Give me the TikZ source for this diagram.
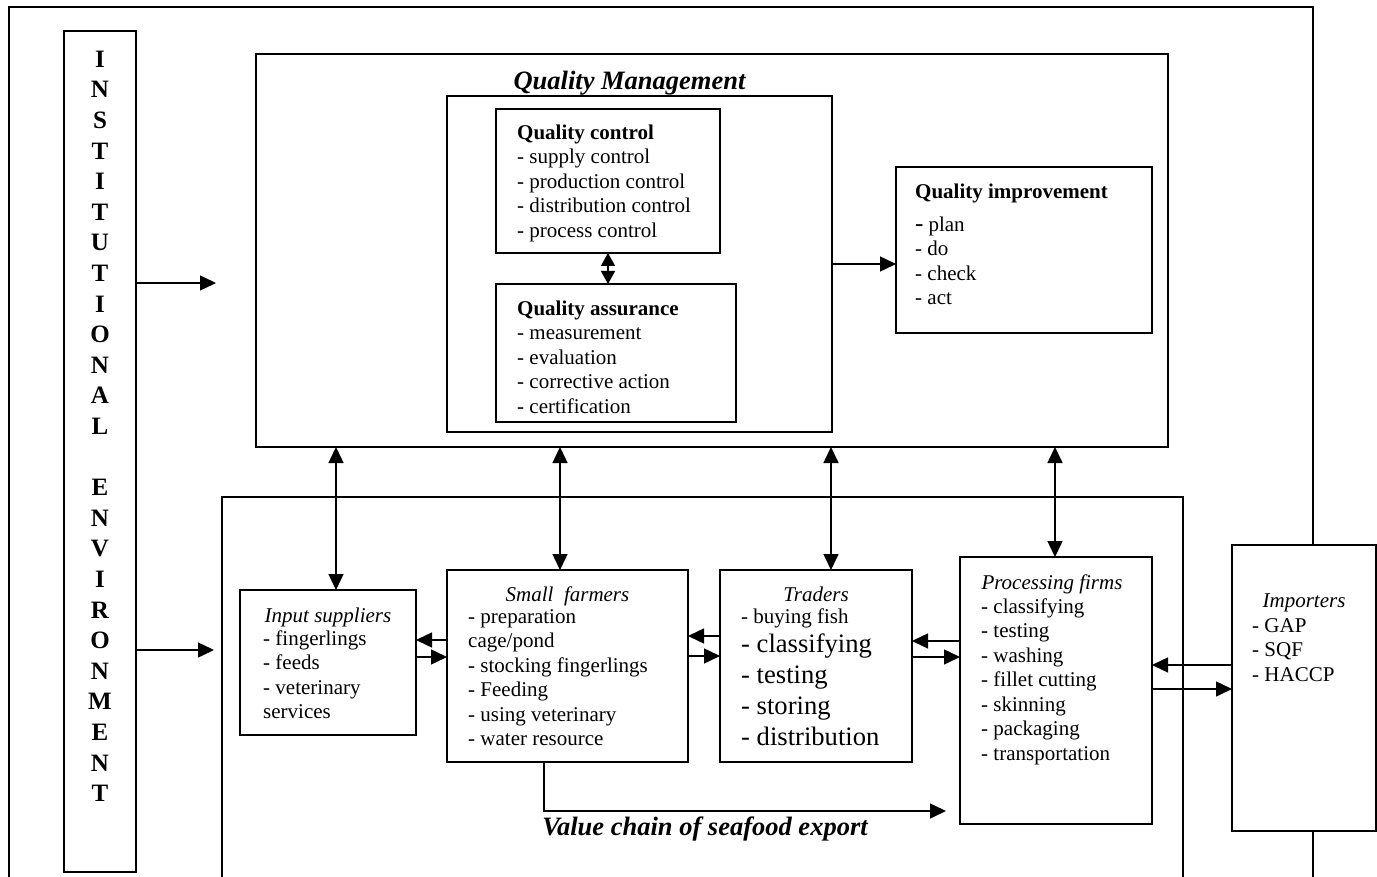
\documentclass[tikz,border=0pt]{standalone}
\usepackage{fontspec}
\setmainfont{Liberation Serif}
\usetikzlibrary{arrows.meta,positioning}
\tikzstyle{box} = [rectangle, draw, line width=1.5pt, inner sep=0pt, outer sep=0pt, anchor=north west]
\tikzstyle{txt} = [inner sep=0pt, anchor=north west, align=left, font=\fontsize{21}{24.5}\selectfont]
\tikzstyle{ttl} = [inner sep=0pt, anchor=base, font=\fontsize{21}{24.5}\selectfont\itshape]
\tikzstyle{heading} = [inner sep=0pt, anchor=base, font=\fontsize{26.5}{31}\selectfont\bfseries\itshape]
\tikzstyle{frameline} = [draw, line width=1.5pt]
\tikzstyle{line} = [draw, line width=1.5pt, -{Triangle[length=16pt,width=15pt]}]
\tikzstyle{dline} = [draw, line width=1.5pt, {Triangle[length=16pt,width=15pt]}-{Triangle[length=16pt,width=15pt]}]
\newcommand{\lnrule}{\rule{0pt}{17.15pt}}
\newcommand{\bigtxt}{\fontsize{26.6}{31}\selectfont}

\begin{document}
\begin{tikzpicture}[x=1pt, y=-1pt]
    \useasboundingbox (0,0) rectangle (1377,877);
    % outer frame and value chain frame
    \draw[frameline] (9,877) |- (1313,7) -- (1313,877);
    \draw[frameline] (222,877) |- (1183,497) -- (1183,877);
    % institutional environment
    \node[box, minimum width=72pt, minimum height=841pt] (inst) at (64,31) {};
    \node[below=14.6pt of inst.north, align=center, inner sep=0pt, font=\fontsize{25}{30.6}\selectfont\bfseries] (instt) {\rule{0pt}{21.4pt}I\\N\\S\\T\\I\\T\\U\\T\\I\\O\\N\\A\\L\\[30.6pt]E\\N\\V\\I\\R\\O\\N\\M\\E\\N\\T};
    \coordinate (ia1) at (216,283);
    \coordinate (ia2) at (214,650);
    \path [line] (inst.east |- ia1) -- (ia1);
    \path [line] (inst.east |- ia2) -- (ia2);
    % quality management
    \node[box, minimum width=912pt, minimum height=393pt] (qm) at (256,54) {};
    \node[heading] (qmt) at (629.5,90) {Quality Management};
    \node[box, minimum width=385pt, minimum height=336pt] (qmin) at (447,96) {};
    \node[box, minimum width=224pt, minimum height=144pt] (qc) at (496,109) {};
    \node[txt, below right=12.85pt and 21pt of qc.north west] (qct) {\lnrule\textbf{Quality control}\\- supply control\\- production control\\- distribution control\\- process control};
    \node[box, minimum width=240pt, minimum height=138pt] (qa) at (496,284) {};
    \node[txt, below right=13.85pt and 21pt of qa.north west] (qat) {\lnrule\textbf{Quality assurance}\\- measurement\\- evaluation\\- corrective action\\- certification};
    \path [draw, line width=1.5pt, {Triangle[length=13pt,width=14pt]}-{Triangle[length=13pt,width=14pt]}] (qc.south) -- (qc.south |- qa.north);
    \node[box, minimum width=256pt, minimum height=166pt] (qi) at (896,167) {};
    \node[txt, below right=13.85pt and 19pt of qi.north west] (qit) {\lnrule\textbf{Quality improvement}\\[8.5pt]{\fontsize{25}{25}\selectfont -}\hspace{5pt}plan\\- do\\- check\\- act};
    \path [line] (qmin.east) -- (qmin.east -| qi.west);
    % value chain
    \node[box, minimum width=176pt, minimum height=145pt] (inp) at (240,590) {};
    \node[ttl] (inpt) at ([yshift=-32pt]inp.north) {Input suppliers};
    \node[txt, below right=37.85pt and 23pt of inp.north west] (inpl) {\lnrule- fingerlings\\- feeds\\- veterinary\\services};
    \node[box, minimum width=241pt, minimum height=192pt] (farm) at (447,570) {};
    \node[ttl] (farmt) at ([yshift=-31pt]farm.north) {Small\ \ farmers};
    \node[txt, below right=35.85pt and 21pt of farm.north west] (farml) {\lnrule- preparation\\cage/pond\\- stocking fingerlings\\- Feeding\\- using veterinary\\- water resource};
    \node[box, minimum width=192pt, minimum height=192pt] (trad) at (720,570) {};
    \node[ttl] (tradt) at ([yshift=-31pt]trad.north) {Traders};
    \node[txt, below right=35.85pt and 21pt of trad.north west] (tradl) {\lnrule- buying fish\\[4.5pt]{\bigtxt - classifying}\\[6.5pt]{\bigtxt - testing}\\[6.5pt]{\bigtxt - storing}\\[6.5pt]{\bigtxt - distribution}};
    \node[box, minimum width=192pt, minimum height=267pt] (proc) at (960,557) {};
    \node[ttl] (proct) at ([shift={(-4pt,-32pt)}]proc.north) {Processing firms};
    \node[txt, below right=38.85pt and 21pt of proc.north west] (procl) {\lnrule- classifying\\- testing\\- washing\\- fillet cutting\\- skinning\\- packaging\\- transportation};
    \node[box, fill=white, minimum width=144pt, minimum height=286pt] (imp) at (1232,545) {};
    \node[ttl] (impt) at ([yshift=-62pt]imp.north) {Importers};
    \node[txt, below right=69.85pt and 20pt of imp.north west] (impl) {\lnrule- GAP\\- SQF\\- HACCP};
    % links to quality management
    \path [dline] ([xshift=8pt]inp.north) -- ([xshift=8pt]inp.north |- qm.south);
    \path [dline] ([xshift=-7.5pt]farm.north) -- ([xshift=-7.5pt]farm.north |- qm.south);
    \path [dline] ([xshift=15pt]trad.north) -- ([xshift=15pt]trad.north |- qm.south);
    \path [dline] ([xshift=-1pt]proc.north) -- ([xshift=-1pt]proc.north |- qm.south);
    % flows along the chain
    \path [line] ([yshift=22.5pt]farm.west |- inp.east) -- ([yshift=22.5pt]inp.east);
    \path [line] ([yshift=5.5pt]inp.east) -- ([yshift=5.5pt]farm.west |- inp.east);
    \path [line] ([yshift=30pt]trad.west) -- ([yshift=30pt]farm.east);
    \path [line] ([yshift=10pt]farm.east) -- ([yshift=10pt]trad.west);
    \path [line] ([yshift=25pt]proc.west |- trad.east) -- ([yshift=25pt]trad.east);
    \path [line] ([yshift=9pt]trad.east) -- ([yshift=9pt]proc.west |- trad.east);
    \path [line] ([yshift=25.5pt]imp.west |- proc.east) -- ([yshift=25.5pt]proc.east);
    \path [line] ([yshift=1.5pt]proc.east) -- ([yshift=1.5pt]imp.west |- proc.east);
    \coordinate (vcend) at (946,811);
    \path [line] ([xshift=-23.5pt]farm.south) |- (vcend);
    \node[heading] (vct) at (705,835) {Value chain of seafood export};
\end{tikzpicture}
\end{document}
